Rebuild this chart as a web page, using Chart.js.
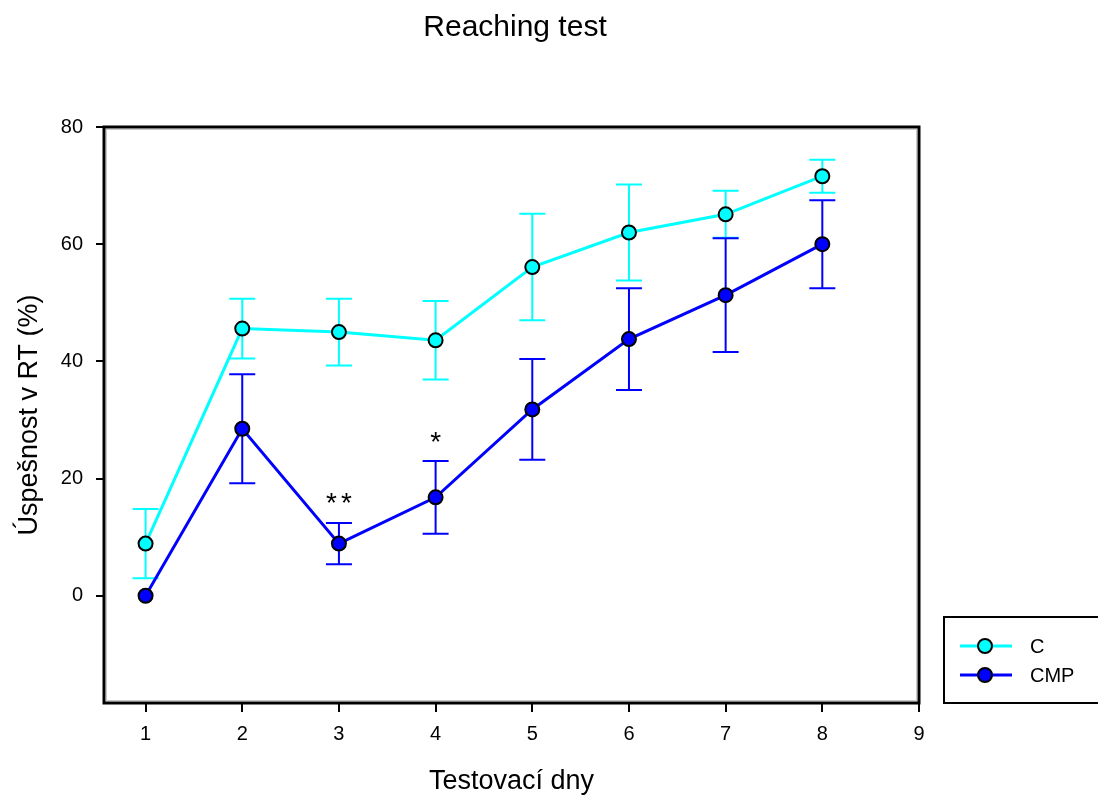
<!DOCTYPE html>
<html>
<head>
<meta charset="utf-8">
<title>Reaching test</title>
<script src="https://cdn.jsdelivr.net/npm/chart.js@4.4.1/dist/chart.umd.min.js"></script>
<style>
    html, body { margin: 0; padding: 0; background: #fff; }
    canvas { display: block; }
</style>
</head>
<body>
<canvas id="reachingChart" width="1098" height="798"></canvas>
<script>
// ============================
// Data
// ============================
const days = [1, 2, 3, 4, 5, 6, 7, 8];
const xTicks = [1, 2, 3, 4, 5, 6, 7, 8, 9];
const yTicks = [0, 20, 40, 60, 80];
const seriesNames = ["C", "CMP"];
const cMean = [8.9, 45.6, 45.0, 43.6, 56.1, 62.0, 65.1, 71.6];
const cErr = [5.9, 5.1, 5.7, 6.7, 9.1, 8.2, 4.0, 2.8];
const cmpMean = [0, 28.5, 8.9, 16.8, 31.8, 43.8, 51.3, 60.0];
const cmpErr = [0, 9.3, 3.5, 6.2, 8.6, 8.7, 9.7, 7.5];
// significance marks above the CMP series
const sigMarks = ["", "", "**", "*", "", "", "", ""];
const sigLevel = [null, null, 17.1, 27.5, null, null, null, null];
const chartTitle = "Reaching test";

const CYAN = "#00FFFF";
const BLUE = "#0000FF";
const FONT = "'Liberation Sans', Arial, sans-serif";

function toPoints(values) {
    return days.map((d, i) => ({ x: d, y: values[i] }));
}

// ============================
// Error bars, drawn under each dataset's line
// ============================
const errorBars = {
    id: "errorBars",
    beforeDatasetDraw(chart, args) {
        const ds = chart.data.datasets[args.index];
        if (!ds.errors) return;
        const xs = chart.scales.x;
        const ys = chart.scales.y;
        const ctx = chart.ctx;
        ctx.save();
        ctx.strokeStyle = ds.borderColor;
        ctx.lineWidth = 2;
        ds.data.forEach((p, i) => {
            const e = ds.errors[i];
            if (!e) return;
            const px = xs.getPixelForValue(p.x);
            const top = ys.getPixelForValue(p.y + e);
            const bot = ys.getPixelForValue(p.y - e);
            ctx.beginPath();
            ctx.moveTo(px, top);
            ctx.lineTo(px, bot);
            ctx.moveTo(px - 13, top);
            ctx.lineTo(px + 13, top);
            ctx.moveTo(px - 13, bot);
            ctx.lineTo(px + 13, bot);
            ctx.stroke();
        });
        ctx.restore();
    }
};

// ============================
// Title, frame, significance stars, legend box
// ============================
const decorations = {
    id: "decorations",
    afterDraw(chart) {
        const ctx = chart.ctx;
        const a = chart.chartArea;
        const xs = chart.scales.x;
        const ys = chart.scales.y;
        ctx.save();

        // title
        ctx.fillStyle = "#000";
        ctx.font = "30px " + FONT;
        ctx.textAlign = "center";
        ctx.textBaseline = "middle";
        ctx.fillText(chartTitle, 515, 28);

        // thin grey inner line + thick black frame
        ctx.strokeStyle = "#c8c8c8";
        ctx.lineWidth = 1;
        ctx.strokeRect(a.left + 2.5, a.top + 2.5, a.width - 5, a.height - 5);
        ctx.strokeStyle = "#000";
        ctx.lineWidth = 3;
        ctx.strokeRect(a.left, a.top, a.width, a.height);

        // stars, one glyph at a time
        ctx.fillStyle = "#000";
        ctx.font = "28px " + FONT;
        ctx.textAlign = "center";
        ctx.textBaseline = "alphabetic";
        sigMarks.forEach((m, i) => {
            if (!m) return;
            const px = xs.getPixelForValue(days[i]);
            const py = ys.getPixelForValue(sigLevel[i]);
            const n = m.length;
            for (let k = 0; k < n; k++) {
                ctx.fillText("*", px + (k - (n - 1) / 2) * 15, py + 16);
            }
        });

        // legend
        ctx.strokeStyle = "#000";
        ctx.lineWidth = 2;
        ctx.strokeRect(944, 617, 160, 86);
        chart.data.datasets.forEach((ds, i) => {
            const ly = 646 + i * 29;
            ctx.strokeStyle = ds.borderColor;
            ctx.lineWidth = 3;
            ctx.beginPath();
            ctx.moveTo(960, ly);
            ctx.lineTo(1012, ly);
            ctx.stroke();
            ctx.beginPath();
            ctx.arc(985, ly, 7, 0, Math.PI * 2);
            ctx.fillStyle = ds.backgroundColor;
            ctx.fill();
            ctx.strokeStyle = "#000";
            ctx.lineWidth = 2;
            ctx.stroke();
            ctx.fillStyle = "#000";
            ctx.font = "20px " + FONT;
            ctx.textAlign = "left";
            ctx.textBaseline = "middle";
            ctx.fillText(ds.label, 1030, ly + 1);
        });
        ctx.restore();
    }
};

Chart.defaults.font.family = FONT;
Chart.defaults.color = "#000";

new Chart(document.getElementById("reachingChart"), {
    type: "line",
    data: {
        datasets: [
            {
                label: seriesNames[0],
                data: toPoints(cMean),
                errors: cErr,
                borderColor: CYAN,
                backgroundColor: CYAN,
                borderWidth: 3,
                pointRadius: 7,
                pointHoverRadius: 7,
                pointBorderWidth: 2,
                pointBorderColor: "#000",
                pointBackgroundColor: CYAN,
                order: 1
            },
            {
                label: seriesNames[1],
                data: toPoints(cmpMean),
                errors: cmpErr,
                borderColor: BLUE,
                backgroundColor: BLUE,
                borderWidth: 3,
                pointRadius: 7,
                pointHoverRadius: 7,
                pointBorderWidth: 2,
                pointBorderColor: "#000",
                pointBackgroundColor: BLUE,
                order: 0
            }
        ]
    },
    options: {
        responsive: false,
        animation: false,
        devicePixelRatio: 1,
        layout: {
            padding: { left: 0, right: 179, top: 127, bottom: 0 }
        },
        plugins: {
            legend: { display: false },
            tooltip: { enabled: false },
            title: { display: false }
        },
        scales: {
            x: {
                type: "linear",
                min: 0.57,
                max: 9,
                afterBuildTicks: (scale) => {
                    scale.ticks = xTicks.map(v => ({ value: v }));
                },
                afterFit: (scale) => { scale.height = 95; },
                border: { display: false },
                grid: {
                    drawOnChartArea: false,
                    drawTicks: true,
                    tickLength: 9,
                    color: "#000",
                    lineWidth: 2
                },
                ticks: {
                    font: { size: 20 },
                    padding: 10,
                    maxRotation: 0,
                    autoSkip: false
                },
                title: {
                    display: true,
                    text: "Testovací dny",
                    font: { size: 27 },
                    padding: { top: 0, bottom: 0 }
                }
            },
            y: {
                type: "linear",
                min: -18.3,
                max: 80,
                afterBuildTicks: (scale) => {
                    scale.ticks = yTicks.map(v => ({ value: v }));
                },
                afterFit: (scale) => { scale.width = 104; },
                border: { display: false },
                grid: {
                    drawOnChartArea: false,
                    drawTicks: true,
                    tickLength: 8,
                    color: "#000",
                    lineWidth: 2
                },
                ticks: {
                    font: { size: 20 },
                    padding: 13,
                    autoSkip: false
                },
                title: {
                    display: true,
                    text: "Úspešnost v RT (%)",
                    font: { size: 27 },
                    padding: { top: 13, bottom: 0 }
                }
            }
        }
    },
    plugins: [errorBars, decorations]
});
</script>
</body>
</html>
